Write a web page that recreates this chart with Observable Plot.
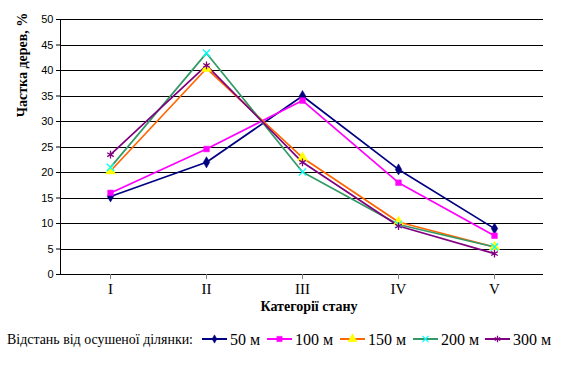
<!DOCTYPE html>
<html>
<head>
<meta charset="utf-8">
<script src="https://cdn.jsdelivr.net/npm/d3@7"></script>
<script src="https://cdn.jsdelivr.net/npm/@observablehq/plot@0.6"></script>
<style>
  html, body { margin: 0; padding: 0; background: #fff; }
  #wrap { position: relative; width: 564px; height: 367px; overflow: hidden; }
  #legend { position: absolute; left: 0; top: 320px; }
</style>
</head>
<body>
<div id="wrap"></div>
<script>
const categories = ["I", "II", "III", "IV", "V"];
const seriesNames = ["50 м", "100 м", "150 м", "200 м", "300 м"];
const v50  = [15.3, 22.0, 35.0, 20.6, 9.0];
const v100 = [16.0, 24.6, 34.1, 18.0, 7.6];
const v150 = [20.3, 40.4, 22.9, 10.3, 5.4];
const v200 = [21.0, 43.4, 20.1, 9.8, 5.4];
const v300 = [23.5, 41.0, 22.0, 9.5, 4.1];
const yTicks = [0, 5, 10, 15, 20, 25, 30, 35, 40, 45, 50];
const yTitle = "Частка дерев, %";
const xTitle = "Категорії стану";
const legendTitle = "Відстань від осушеної ділянки:";

const styles = [
  {line: "#000080", fill: "#000080", stroke: "#000080", symbol: "diamond", r: 3.4},
  {line: "#FF00FF", fill: "#FF00FF", stroke: "#FF00FF", symbol: "square", r: 3.2},
  {line: "#FF6600", fill: "#FFFF00", stroke: "#FFFF00", symbol: "triangle", r: 3.8},
  {line: "#339966", fill: "none", stroke: "#00FFFF", symbol: "times", r: 3.4},
  {line: "#800080", fill: "none", stroke: "#800080", symbol: "asterisk", r: 3.6}
];
const allValues = [v50, v100, v150, v200, v300];
const data = [];
allValues.forEach((vals, s) => vals.forEach((v, i) => data.push({series: seriesNames[s], cat: categories[i], value: v, s})));

const serif = "'Liberation Serif', 'Times New Roman', serif";
const sans = "'Liberation Sans', Arial, sans-serif";

const marks = [
  Plot.ruleY(yTicks.slice(1), {stroke: "#000", strokeWidth: 1, shapeRendering: "crispEdges"}),
  Plot.axisY({ticks: yTicks, tickSize: 4, tickPadding: 3, label: null, fontFamily: sans, fontSize: 11, stroke: "#000", color: "#000"}),
  Plot.frame({anchor: "left", stroke: "#000", shapeRendering: "crispEdges"}),
  Plot.ruleY([0], {stroke: "#000", strokeWidth: 1, shapeRendering: "crispEdges"}),
  Plot.axisX({tickSize: 5, tickPadding: 4, stroke: "#808080", label: null, fontFamily: serif, fontSize: 15}),
];
styles.forEach((st, s) => {
  const d = data.filter(r => r.s === s);
  marks.push(Plot.line(d, {x: "cat", y: "value", stroke: st.line, strokeWidth: 1.7}));
});
styles.forEach((st, s) => {
  const d = data.filter(r => r.s === s);
  marks.push(Plot.dot(d, {x: "cat", y: "value", symbol: () => st.symbol, r: st.r,
    fill: st.fill, stroke: st.stroke, strokeWidth: st.fill === "none" ? 1.3 : 0.5}));
});
marks.push(Plot.text([xTitle], {frameAnchor: "bottom", dy: 36, dx: 7, text: d => d, fontFamily: serif, fontSize: 14, fontWeight: "bold", fill: "#000"}));

const chart = Plot.plot({
  width: 564,
  height: 320,
  marginLeft: 60,
  marginRight: 21,
  marginTop: 19,
  marginBottom: 46,
  style: {background: "#fff", overflow: "visible"},
  x: {type: "point", domain: categories, padding: 0.5},
  y: {domain: [0, 50]},
  marks
});
document.getElementById("wrap").appendChild(chart);

const svg = d3.select(chart);
svg.append("text")
  .attr("transform", "translate(27,65) rotate(-90)")
  .attr("text-anchor", "middle")
  .attr("font-family", serif)
  .attr("font-size", 14)
  .attr("font-weight", "bold")
  .attr("fill", "#000")
  .text(yTitle);

// legend
const lg = d3.select("#wrap").append("svg").attr("id", "legend").attr("width", 564).attr("height", 47);
const ly = 19;
lg.append("text").attr("x", 7).attr("y", ly).attr("dy", "0.35em")
  .attr("font-family", serif).attr("font-size", 15).attr("textLength", 186).attr("lengthAdjust", "spacingAndGlyphs")
  .attr("fill", "#000").text(legendTitle);
const swatchX = [202, 267, 340, 413, 485];
const symMap = {diamond: d3.symbolDiamond, square: d3.symbolSquare, triangle: d3.symbolTriangle, times: d3.symbolTimes, asterisk: d3.symbolAsterisk};
const sizes = {diamond: 20, square: 28, triangle: 36, times: 26, asterisk: 28};
styles.forEach((st, s) => {
  const g = lg.append("g").attr("transform", `translate(${swatchX[s]},${ly})`);
  g.append("line").attr("x1", 0).attr("x2", 25).attr("y1", 0).attr("y2", 0).attr("stroke", st.line).attr("stroke-width", 2);
  g.append("path").attr("transform", "translate(12.5,0)")
    .attr("d", d3.symbol(symMap[st.symbol], sizes[st.symbol])())
    .attr("fill", st.fill).attr("stroke", st.stroke).attr("stroke-width", st.fill === "none" ? 1.2 : 0.5);
  g.append("text").attr("x", 28).attr("dy", "0.35em").attr("font-family", serif).attr("font-size", 16)
    .attr("fill", "#000").text(seriesNames[s]);
});
</script>
</body>
</html>
